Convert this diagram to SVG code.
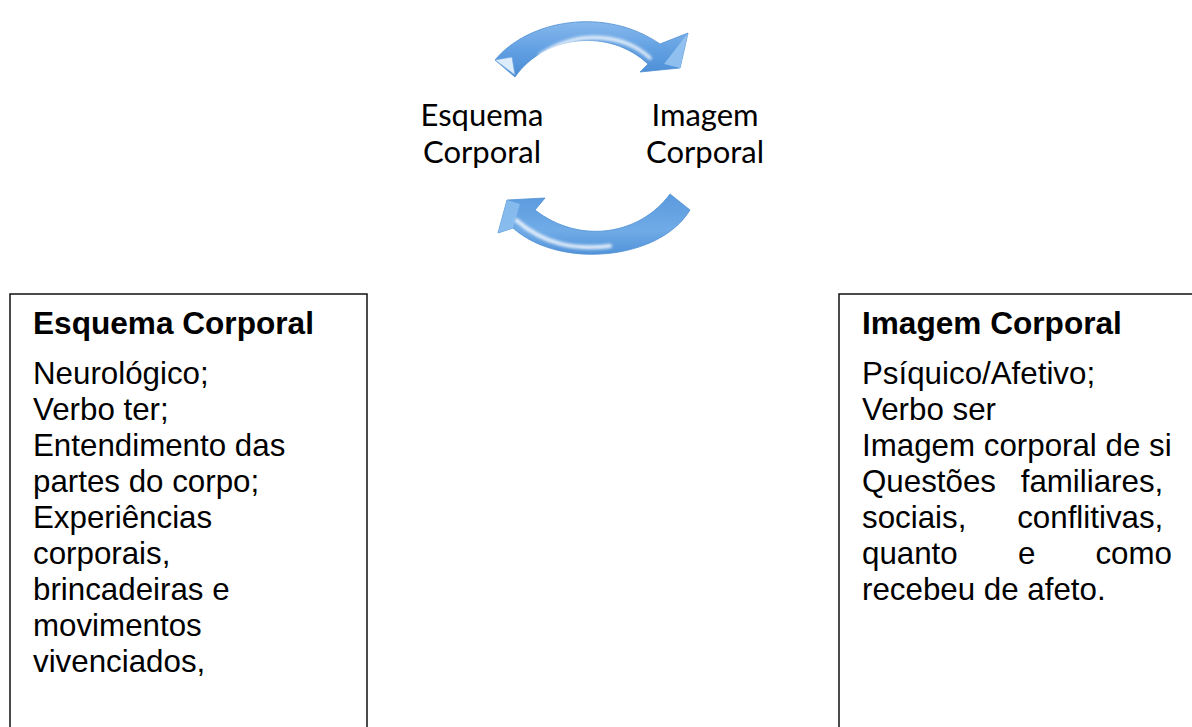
<svg xmlns="http://www.w3.org/2000/svg" width="1192" height="727" viewBox="0 0 1192 727">
<defs>
<style>
.lbl{font-family:Lato,"Open Sans","Liberation Sans",sans-serif;font-size:31px;fill:#000;text-anchor:middle}
.hd{font-family:"Liberation Sans",Arial,sans-serif;font-size:31.6px;font-weight:bold;fill:#000}
.bd{font-family:"Liberation Sans",Arial,sans-serif;font-size:31.3px;fill:#000}
.box{fill:#fff;stroke:#111;stroke-width:1.5}
.arrow{stroke:#4f8fd3;stroke-width:0.8;stroke-linejoin:round}
.hl{fill:none;stroke:#fff;stroke-linecap:round;filter:url(#blur)}
</style>
<linearGradient id="gTop" x1="0" y1="0" x2="0" y2="1">
<stop offset="0" stop-color="#86b8ec"/>
<stop offset="0.5" stop-color="#62a0e2"/>
<stop offset="1" stop-color="#4a8cd4"/>
</linearGradient>
<linearGradient id="gBot" x1="0" y1="0" x2="0" y2="1">
<stop offset="0" stop-color="#5a99de"/>
<stop offset="0.6" stop-color="#70abe7"/>
<stop offset="1" stop-color="#5293d9"/>
</linearGradient>
<filter id="blur" x="-20%" y="-20%" width="140%" height="140%"><feGaussianBlur stdDeviation="1.6"/></filter>
</defs>
<g id="connectors">
<g id="arrow-top">
<path class="arrow" fill="url(#gTop)" d="M495,60 C528,20 605,6 660,44 L688,33 L680,68 L640,72 L648,64 C610,28 545,34 515,77 Z"/>
<path class="hl" stroke-width="3.5" stroke-opacity="0.85" d="M540,55 C580,28 625,35 650,58"/>
<polygon points="495,60 512,57 515,75" fill="#dcecfb" stroke="#6aa5e3" stroke-width="0.6"/>
<polygon points="688,33 680,68 664,64" fill="#9cc8f2" opacity="0.8"/>
</g>
<g id="arrow-bottom">
<path class="arrow" fill="url(#gBot)" d="M670,194 C640,235 580,245 535,210 L545,198 L507,200 L498,233 L513,228 C560,270 660,260 690,210 Z"/>
<path class="hl" stroke-width="4" stroke-opacity="0.85" d="M516,220 C545,245 575,250 610,246"/>
<polygon points="507,200 520,204 513,228 498,233" fill="#8fc0f0" opacity="0.8"/>
</g>
</g>
<g id="label-esquema">
<text class="lbl" x="482" y="126">Esquema</text>
<text class="lbl" x="482" y="163">Corporal</text>
</g>
<g id="label-imagem">
<text class="lbl" x="705" y="126">Imagem</text>
<text class="lbl" x="705" y="163">Corporal</text>
</g>
<g id="box-esquema">
<path class="box" d="M10,740 V294 H367 V740"/>
<text class="hd" x="33" y="334">Esquema Corporal</text>
<text class="bd">
<tspan x="33" y="384">Neurológico;</tspan>
<tspan x="33" y="420">Verbo ter;</tspan>
<tspan x="33" y="456">Entendimento das</tspan>
<tspan x="33" y="492">partes do corpo;</tspan>
<tspan x="33" y="528">Experiências</tspan>
<tspan x="33" y="564">corporais,</tspan>
<tspan x="33" y="600">brincadeiras e</tspan>
<tspan x="33" y="636">movimentos</tspan>
<tspan x="33" y="672">vivenciados,</tspan>
</text>
</g>
<g id="box-imagem">
<path class="box" d="M839,740 V294 H1200"/>
<text class="hd" x="862" y="334">Imagem Corporal</text>
<text class="bd">
<tspan x="862" y="384">Psíquico/Afetivo;</tspan>
<tspan x="862" y="420">Verbo ser</tspan>
<tspan x="862" y="456">Imagem corporal de si</tspan>
<tspan x="862" y="492">Questões</tspan>
<tspan x="862" y="528">sociais,</tspan>
<tspan x="862" y="564">quanto</tspan>
<tspan x="1018" y="564">e</tspan>
<tspan x="862" y="600">recebeu de afeto.</tspan>
</text>
<text class="bd" text-anchor="end">
<tspan x="1172" y="492">familiares,</tspan>
<tspan x="1172" y="528">conflitivas,</tspan>
<tspan x="1172" y="564">como</tspan>
</text>
</g>
</svg>
